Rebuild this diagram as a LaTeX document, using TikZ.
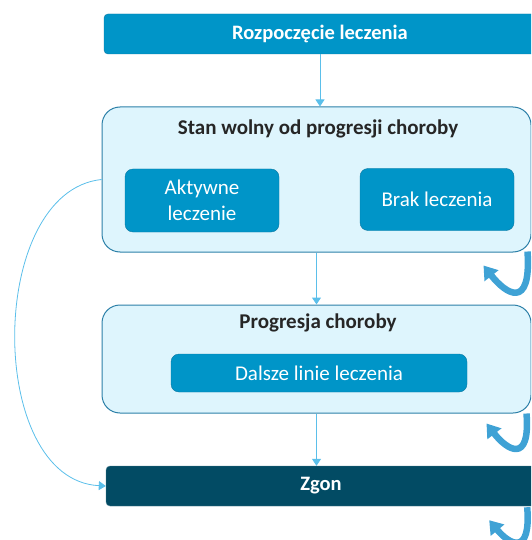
\documentclass[tikz,border=0pt]{standalone}
\usepackage{fontspec}
\setmainfont{Carlito}
\usetikzlibrary{arrows.meta, calc}
\definecolor{HdrBlue}{HTML}{0095C8}
\definecolor{HdrLine}{HTML}{0B78A2}
\definecolor{PanelFill}{HTML}{DEF5FD}
\definecolor{PanelLine}{HTML}{2C80A8}
\definecolor{DeathTeal}{HTML}{024B64}
\definecolor{LinkBlue}{HTML}{5BBFEA}
\definecolor{LoopBlue}{HTML}{3FA2D5}

\begin{document}
\begin{tikzpicture}[x=1pt, y=-1pt,
    every node/.style={font=\fontsize{21}{26}\selectfont},
    hdr/.style={draw=HdrLine, fill=HdrBlue, rounded corners=4pt, text=white, font=\bfseries\fontsize{20.5}{24}\selectfont, minimum height=40pt},
    panel/.style={draw=PanelLine, fill=PanelFill, rounded corners=18pt, line width=1pt},
    inner/.style={draw=HdrLine, fill=HdrBlue, rounded corners=8pt, text=white, align=center},
    paneltitle/.style={font=\bfseries\fontsize{21}{24}\selectfont, text=black!85},
    link/.style={draw=LinkBlue, line width=1pt, -{Triangle[width=9pt,length=7pt]}},
    selfloop/.style={draw=LoopBlue, line width=6.5pt, -{Triangle[width=17pt,length=13pt]}}]
    \useasboundingbox (0,0) rectangle (531,540);
    \clip (0,0) rectangle (531,540);
    % boxes
    \node[hdr, minimum width=432pt](start)at(320,34){Rozpoczęcie leczenia};
    \node[panel, minimum width=429pt, minimum height=145pt](pfs)at(316.5,179.5){};
    \node[paneltitle](pfstitle)at(318,129){Stan wolny od progresji choroby};
    \node[inner, minimum width=154pt, minimum height=63pt](akt)at(202,200.5){Aktywne\\leczenie};
    \node[inner, minimum width=154pt, minimum height=62pt](brak)at(437,199.5){Brak leczenia};
    \node[panel, minimum width=429pt, minimum height=108pt](prog)at(316.5,359){};
    \node[paneltitle](progtitle)at(318,323){Progresja choroby};
    \node[inner, minimum width=296pt, minimum height=38pt](dalsze)at(319,373){Dalsze linie leczenia};
    \node[hdr, fill=DeathTeal, draw=DeathTeal!70!white, minimum width=430pt](zgon)at(321,486){Zgon};
    % transitions
    \draw[link](start.south)--(start.south |- pfs.north);
    \draw[link](pfs.south)--(prog.north);
    \draw[link](prog.south)--(prog.south |- zgon.north);
    \draw[link, line width=0.8pt](pfs.west) .. controls +(-115,12) and +(-120,-6) .. (zgon.west);
    % staying in the same state
    \draw[selfloop]($(pfs.south east)+(-4,-1)$) .. controls +(4,60) and +(22,28) .. +(-44,14);
    \draw[selfloop]($(prog.south east)+(-5,0)$) .. controls +(4,52) and +(20,26) .. +(-40,10);
    \draw[selfloop]($(zgon.south east)+(-9,1)$) .. controls +(4,50) and +(20,24) .. +(-38,13);
\end{tikzpicture}
\end{document}
